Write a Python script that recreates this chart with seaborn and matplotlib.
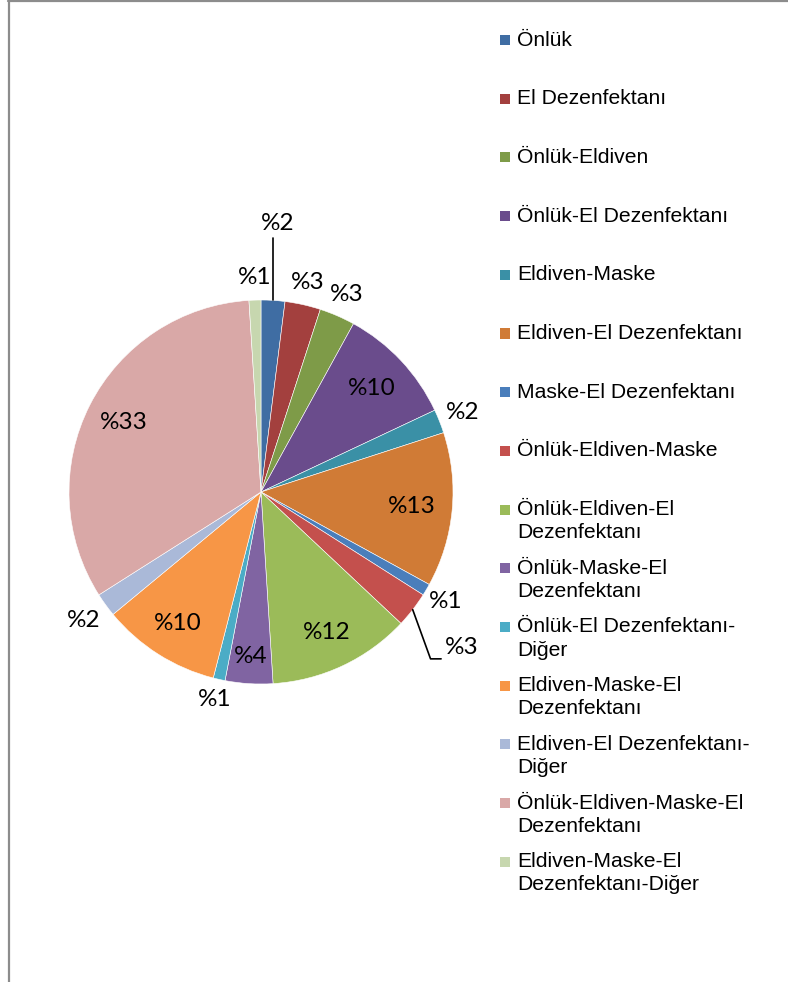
import matplotlib
matplotlib.use("Agg")
import matplotlib.pyplot as plt
from matplotlib.patches import Rectangle
from matplotlib.lines import Line2D
import numpy as np
import seaborn as sns

# Survey answers: which protective items are used (percent of respondents)
categories = [
    "Önlük",
    "El Dezenfektanı",
    "Önlük-Eldiven",
    "Önlük-El Dezenfektanı",
    "Eldiven-Maske",
    "Eldiven-El Dezenfektanı",
    "Maske-El Dezenfektanı",
    "Önlük-Eldiven-Maske",
    "Önlük-Eldiven-El\nDezenfektanı",
    "Önlük-Maske-El\nDezenfektanı",
    "Önlük-El Dezenfektanı-\nDiğer",
    "Eldiven-Maske-El\nDezenfektanı",
    "Eldiven-El Dezenfektanı-\nDiğer",
    "Önlük-Eldiven-Maske-El\nDezenfektanı",
    "Eldiven-Maske-El\nDezenfektanı-Diğer",
]
percentages = [2, 3, 3, 10, 2, 13, 1, 3, 12, 4, 1, 10, 2, 33, 1]

colors = [
    "#3F6DA3", "#A3403E", "#7E9B48", "#6A4C8C", "#3A90A6",
    "#D07B36", "#4A7EBB", "#C4504D", "#9BBB59", "#8064A2",
    "#4BACC6", "#F79646", "#AAB9D8", "#D9A8A7", "#C7D7AF",
]

# Radial position of each value label (fraction of the pie radius)
label_radius = [1.40, 1.12, 1.12, 0.79, 1.13, 0.79, 1.12, 1.32,
                0.81, 0.86, 1.11, 0.81, 1.14, 0.80, 1.12]

sns.set_theme(style="white")
plt.rcParams["font.family"] = ["Liberation Sans", "DejaVu Sans"]

W, H = 788, 982
fig = plt.figure(figsize=(W / 100, H / 100), dpi=100)
fig.patch.set_facecolor("white")

# Pie centre and radius in pixels
cx, cy, R = 261, 492, 192
ax = fig.add_axes([0, 0, 1, 1])
wedges, _ = ax.pie(
    percentages,
    colors=colors,
    startangle=90,
    counterclock=False,
    radius=1.0,
    wedgeprops=dict(edgecolor="white", linewidth=0.4),
)
ax.set_xlim(-cx / R, (W - cx) / R)
ax.set_ylim(-(H - cy) / R, cy / R)
ax.set_aspect("equal")
ax.axis("off")

label_font = dict(family=["Lato", "DejaVu Sans"], fontsize=17.5, color="black")
for i, (w, v) in enumerate(zip(wedges, percentages)):
    mid = np.deg2rad((w.theta1 + w.theta2) / 2)
    r = label_radius[i]
    lx, ly = r * np.cos(mid), r * np.sin(mid)
    ex, ey = np.cos(mid), np.sin(mid)
    txt = f"%{v}"
    if i == 0:
        # straight leader up to the label
        ax.add_line(Line2D([ex, ex], [ey, ly - 0.075], color="black", lw=1.2))
        ax.text(lx, ly, txt, ha="center", va="center", **label_font)
    elif i == 7:
        # bent leader ending beside the label
        kx, ky = lx - 0.16, ly - 0.06
        ax.add_line(Line2D([ex, kx, kx + 0.055], [ey, ky, ky], color="black", lw=1.2))
        ax.text(lx, ly, txt, ha="center", va="center", **label_font)
    else:
        ax.text(lx, ly, txt, ha="center", va="center", **label_font)

# Legend drawn as a column of swatches with wrapped labels
def fx(px):
    return px / W

def fy(py):
    return 1 - py / H

first_y, step, line_gap = 40, 58.7, 23
for i, (name, col) in enumerate(zip(categories, colors)):
    y0 = first_y + i * step
    fig.patches.append(Rectangle((fx(500), fy(y0 + 5)), 10 / W, 10 / H,
                                 transform=fig.transFigure, facecolor=col,
                                 edgecolor="none"))
    for k, line in enumerate(name.split("\n")):
        fig.text(fx(517), fy(y0 + k * line_gap), line, ha="left", va="center",
                 fontsize=15.2, color="black")

# Chart frame (left and top edges)
frame = "#8C8C8C"
fig.add_artist(Line2D([fx(8.5), fx(8.5)], [0, fy(0.5)], transform=fig.transFigure,
                      color=frame, lw=1.6))
fig.add_artist(Line2D([fx(8), 1], [fy(1), fy(1)], transform=fig.transFigure,
                      color=frame, lw=1.6))

fig.savefig("out.png", dpi=100, facecolor="white")
